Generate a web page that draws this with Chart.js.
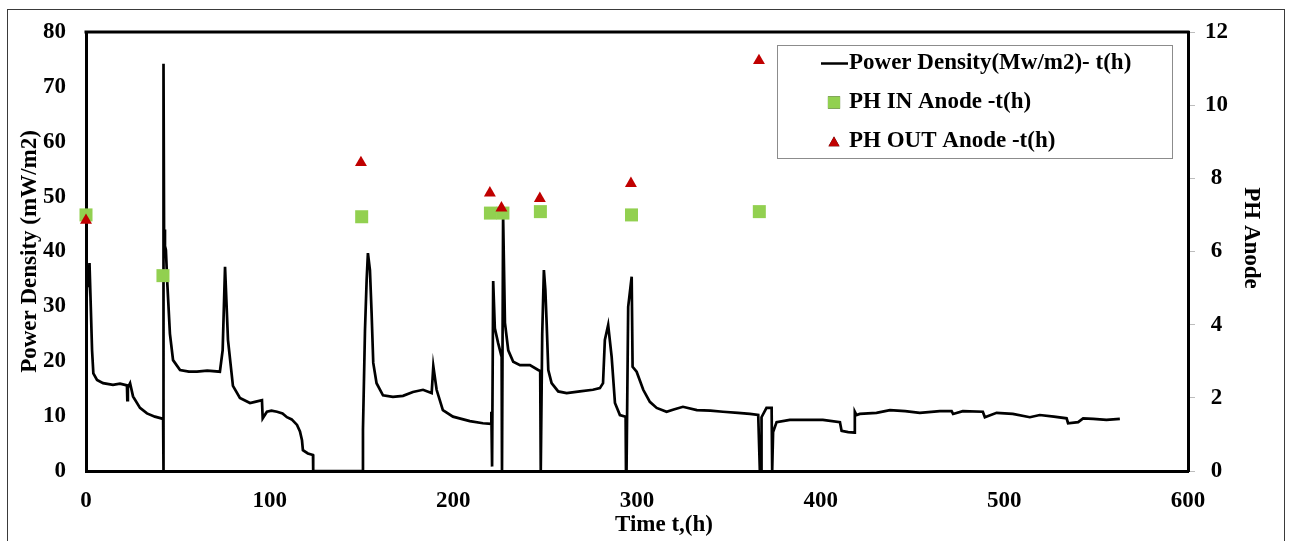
<!DOCTYPE html>
<html>
<head>
<meta charset="utf-8">
<script src="https://cdn.jsdelivr.net/npm/chart.js@4/dist/chart.umd.min.js"></script>
<style>
  html, body { margin: 0; padding: 0; background: #fff; }
  #wrap { width: 1290px; height: 541px; position: relative; }
</style>
</head>
<body>
<div id="wrap"><canvas id="chart" width="1290" height="541"></canvas></div>
<script>
// Power density record (time in hours, mW/m2)
const hours = [
  0, 0.3, 0.8, 1.2, 1.9, 2.6, 3.3, 4.0, 6.0, 9.3, 14.7, 18.5, 22.3, 22.5, 22.8, 24.0, 25.6, 29.4, 33.2, 37.5, 42.0,
  42.1, 42.3, 42.5, 43.0, 43.5, 44.3, 45.7, 47.4, 51.2, 56, 60.4, 66, 72.9, 74.4, 75.7, 77.3, 80.0, 83.8, 89.3, 92, 95.8,
  96.2, 98.5, 101, 104, 107, 109.4, 112, 114.9, 116.5, 117.6, 118.1, 120.8, 123.6, 123.7,
  150.5, 150.8, 151.9, 152.8, 153.5, 154.6, 155.5, 156.4, 158.2, 161.7, 167.1, 172.6, 178, 183.5, 188.2, 189.1, 190.9,
  194.3, 199.8, 209, 216.1, 220.6, 220.7, 221.1, 221.7, 222.6, 224.4, 226.3, 226.5, 227.1, 228.1, 229.9, 232.6, 236.3,
  241.7, 246.2, 247.3, 247.6, 248.4, 249.3, 250.1, 250.8, 251.7, 253.5, 257.1, 261.7, 268.9, 276, 279.8, 281.5, 282.5,
  284.3, 286.2, 288, 290.7, 293.8, 294.0, 294.3, 295.2, 297.1, 297.6, 299.8, 303.4, 307, 310.7, 316.1, 320, 325, 332.6,
  340, 346.8, 355, 361.5, 366, 366.9, 367.6, 367.8, 370.5, 373.3, 373.6, 374.0, 374.1, 376, 383.2, 390, 401.2, 410.5,
  411.4, 415, 418.5, 418.6, 419.5, 421.3, 430.4, 437.7, 446, 454, 464.9, 471.3, 472.1, 477.4, 488.3, 489.4, 495.8,
  504.6, 513.9, 519.3, 527, 533.9, 534.7, 540.2, 542.9, 548.4, 555.6, 562.9
];
const powerDensity = [
  0, 31, 36.5, 33.5, 37.9, 30, 22, 17.8, 16.6, 16.0, 15.7, 15.9, 15.6, 12.9, 15.2, 16.0, 13.6, 11.5, 10.5, 9.9, 9.5,
  0, 74.2, 44, 41, 40.3, 34, 25, 20.2, 18.4, 18.1, 18.1, 18.3, 18.1, 22, 37.2, 23.9, 15.5, 13.3, 12.4, 12.6, 12.9,
  9.6, 10.8, 11.0, 10.8, 10.5, 9.8, 9.4, 8.4, 7.2, 5.6, 3.8, 3.2, 2.9, 0,
  0, 7.5, 25.7, 34.8, 39.7, 36.6, 28.8, 19.7, 16, 13.8, 13.5, 13.7, 14.4, 14.8, 14.2, 19.1, 14.8,
  11.1, 9.9, 9.1, 8.7, 8.6, 10.8, 0.8, 34.6, 26, 23.3, 20.8, 0, 46.6, 27, 22, 19.9, 19.3,
  19.3, 18.4, 18.2, 0, 25, 36.6, 33, 27, 18.4, 16, 14.5, 14.2, 14.5, 14.8, 15.1, 16, 23.9,
  26.6, 20.8, 12.4, 10.2, 9.9, 0, 0, 29.9, 35.4, 19, 18.1, 14.8, 12.6, 11.5, 10.8, 11.2, 11.7, 11.1,
  11.0, 10.8, 10.6, 10.4, 10.2, 0, 0, 9.8, 11.5, 11.5, 0, 0, 7.1, 8.9, 9.3, 9.3, 9.3, 8.9,
  7.3, 7.1, 7.0, 10.8, 10.2, 10.4, 10.6, 11.1, 10.9, 10.6, 10.9, 10.9, 10.4, 10.9, 10.8, 9.8, 10.6,
  10.4, 9.8, 10.2, 9.9, 9.6, 8.7, 8.9, 9.6, 9.5, 9.3, 9.5
];

// Anode pH samples
const phInHours = [0, 41.9, 150.1, 220.2, 227.0, 247.4, 297.0, 366.6];
const phIn = [7.0, 5.34, 6.95, 7.05, 7.05, 7.09, 7.0, 7.09];
const phOutHours = [0, 149.7, 219.9, 226.2, 247.1, 296.7, 366.4];
const phOut = [6.85, 8.43, 7.6, 7.19, 7.45, 7.86, 11.22];

// Text
const seriesLabels = ['Power Density(Mw/m2)- t(h)', 'PH IN Anode -t(h)', 'PH OUT Anode -t(h)'];
const xTitle = 'Time t,(h)';
const yTitle = 'Power Density (mW/m2)';
const y1Title = 'PH Anode';

const FONT_FAMILY = '"Liberation Serif", "Times New Roman", serif';
const FONT_SIZE = 23;
const tickFont = { family: FONT_FAMILY, size: FONT_SIZE, weight: 'bold' };

const toPoints = (xs, ys) => xs.map((x, i) => ({ x, y: ys[i] }));

const decorations = {
  id: 'decorations',
  beforeDraw(chart) {
    const ctx = chart.ctx;
    ctx.save();
    ctx.fillStyle = '#fff';
    ctx.fillRect(0, 0, chart.width, chart.height);
    ctx.strokeStyle = '#3a3a3a';
    ctx.lineWidth = 1;
    ctx.strokeRect(7.5, 9.5, 1277, 560);
    ctx.restore();
  },
  afterDraw(chart) {
    const ctx = chart.ctx;
    const a = chart.chartArea;
    ctx.save();
    // upper edge of the plot frame
    ctx.strokeStyle = '#000';
    ctx.lineWidth = 3;
    ctx.beginPath();
    ctx.moveTo(a.left - 1.5, a.top);
    ctx.lineTo(a.right + 1.5, a.top);
    ctx.stroke();

    ctx.fillStyle = '#000';
    ctx.font = 'bold ' + FONT_SIZE + 'px ' + FONT_FAMILY;
    ctx.textAlign = 'center';
    ctx.textBaseline = 'middle';
    ctx.fillText(xTitle, 664, 525);

    ctx.save();
    ctx.translate(1251, 238);
    ctx.rotate(Math.PI / 2);
    ctx.fillText(y1Title, 0, 0);
    ctx.restore();

    // legend
    const box = { x: 777.5, y: 45.5, w: 395, h: 113 };
    ctx.strokeStyle = '#8c8c8c';
    ctx.lineWidth = 1;
    ctx.strokeRect(box.x, box.y, box.w, box.h);
    const rows = [63.5, 102.5, 141.5];
    const ds = chart.data.datasets;
    ctx.textAlign = 'left';
    ctx.textBaseline = 'middle';
    ds.forEach((d, i) => {
      const y = rows[i];
      if (i === 0) {
        ctx.strokeStyle = d.borderColor;
        ctx.lineWidth = 2.5;
        ctx.beginPath();
        ctx.moveTo(821, y);
        ctx.lineTo(848, y);
        ctx.stroke();
      } else {
        Chart.helpers.drawPoint(ctx, {
          pointStyle: d.pointStyle,
          radius: i === 1 ? 8.6 : 6.4,
          rotation: 0,
          borderWidth: 0
        }, 834, y + (i === 2 ? 1.5 : 0));
        ctx.fillStyle = d.backgroundColor;
        ctx.fill();
      }
      ctx.fillStyle = '#000';
      ctx.fillText(d.label, 849, y);
    });
    ctx.restore();
  }
};

new Chart(document.getElementById('chart'), {
  type: 'scatter',
  data: {
    datasets: [
      {
        label: seriesLabels[0],
        data: toPoints(hours, powerDensity),
        showLine: true,
        borderColor: '#000',
        borderWidth: 2.7,
        pointRadius: 0,
        tension: 0,
        yAxisID: 'y',
        order: 3
      },
      {
        label: seriesLabels[1],
        data: toPoints(phInHours, phIn),
        pointStyle: 'rect',
        pointRadius: 9.2,
        backgroundColor: '#92d050',
        borderWidth: 0,
        yAxisID: 'y1',
        clip: false,
        order: 2
      },
      {
        label: seriesLabels[2],
        data: toPoints(phOutHours, phOut),
        pointStyle: 'triangle',
        pointRadius: 6.9,
        backgroundColor: '#c00000',
        borderWidth: 0,
        yAxisID: 'y1',
        clip: false,
        order: 1
      }
    ]
  },
  options: {
    responsive: false,
    animation: false,
    devicePixelRatio: 1,
    layout: { padding: { top: 32, left: 0, right: 0, bottom: 0 } },
    plugins: { legend: { display: false }, tooltip: { enabled: false } },
    scales: {
      x: {
        type: 'linear',
        min: 0,
        max: 600,
        ticks: { stepSize: 100, color: '#000', font: tickFont, padding: 8, maxRotation: 0 },
        grid: { display: false },
        border: { display: true, color: '#000', width: 3 },
        afterFit(s) { s.height = 70; }
      },
      y: {
        position: 'left',
        min: 0,
        max: 80,
        ticks: { stepSize: 10, color: '#000', font: tickFont, padding: 12 },
        grid: { display: false },
        border: { display: true, color: '#000', width: 3 },
        title: {
          display: true,
          text: yTitle,
          color: '#000',
          font: tickFont,
          padding: { top: 16, bottom: 0 }
        },
        afterFit(s) { s.width = 86; }
      },
      y1: {
        position: 'right',
        min: 0,
        max: 12,
        ticks: { stepSize: 2, color: '#000', font: tickFont, padding: 10, crossAlign: 'center' },
        grid: { display: true, drawOnChartArea: false, drawTicks: true, tickLength: 7, tickColor: '#bdbdbd', color: '#bdbdbd' },
        border: { display: true, color: '#000', width: 3 },
        afterFit(s) { s.width = 102; }
      }
    }
  },
  plugins: [decorations]
});
</script>
</body>
</html>
